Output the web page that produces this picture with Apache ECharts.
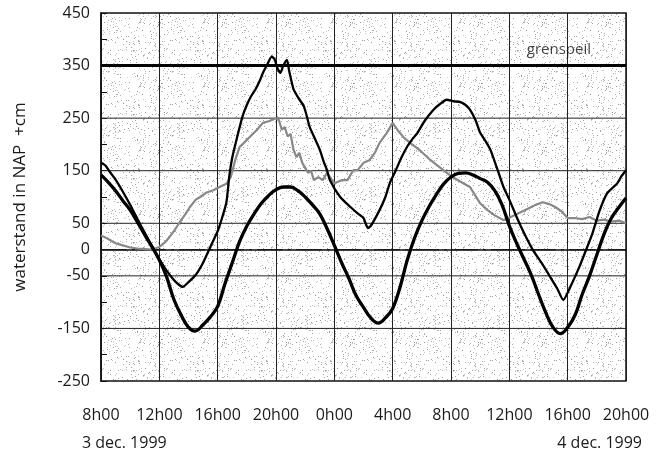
<!DOCTYPE html>
<html>
<head>
<meta charset="utf-8">
<script src="https://cdn.jsdelivr.net/npm/echarts@6/dist/echarts.min.js"></script>
<style>
html,body{margin:0;padding:0;background:#fff;}
#chart{width:664px;height:457px;}
</style>
</head>
<body>
<div id="chart"></div>
<script>
// ---- data (hours since 0h00 on 3 dec. 1999) ----
var xTicks = [8, 12, 16, 20, 24, 28, 32, 36, 40, 44];
var yTickLabels = [450, 350, 250, 150, 50, 0, -50, -150, -250];
var gridLinesY = [250, 150, 50, -50, -150];
var grenspeil = 350;
var zeroLine = 0;

// astronomical tide (thick black)
var astroHours = [8,8.5,9,9.5,10,10.5,11,11.5,12,12.5,13,13.5,14,14.45,15,15.5,16,16.5,17,17.5,18,18.5,19,19.5,20,20.5,21,21.5,22,22.5,23,23.5,24,24.5,25,25.5,26,26.5,27,27.5,28,28.5,29,29.5,30,30.5,31,31.5,32,32.5,33,33.5,34,34.5,35,35.5,36,36.5,37,37.5,38,38.5,39,39.5,40,40.5,41,41.5,42,42.5,43,43.5,44];
var astroValues = [142,128,112,93,75,52,28,5,-20,-52,-95,-125,-148,-155,-143,-128,-108,-65,-25,15,45,68,88,103,114,119,119,112,100,85,68,40,8,-25,-55,-88,-110,-130,-140,-130,-112,-72,-20,22,55,82,105,125,138,145,146,142,135,128,112,85,45,12,-18,-48,-85,-120,-148,-160,-148,-125,-85,-50,-10,30,60,80,98];

// measured water level (medium black)
var measHours = [8,8.3,8.6,9,9.5,10,10.5,11,11.5,12,12.5,13,13.3,13.6,14,14.5,15,15.5,16,16.3,16.6,16.8,17,17.3,17.7,18,18.3,18.6,18.9,19.1,19.4,19.7,19.9,20.1,20.3,20.5,20.75,20.9,21.2,21.5,21.9,22.1,22.3,22.6,23,23.3,23.5,23.7,24.4,25.1,25.6,26,26.3,26.5,27.1,27.5,27.8,28.2,28.6,29,29.4,29.7,30.2,30.8,31.2,31.7,32.2,32.6,33,33.3,33.7,34,34.4,34.7,35.2,35.6,36,36.5,37,37.6,38.2,38.8,39.3,39.7,40.2,40.8,41.2,41.7,42.2,42.7,43.1,43.4,43.7,44];
var measValues = [165,160,148,133,110,85,58,32,6,-18,-40,-58,-66,-71,-62,-48,-25,5,35,60,90,140,175,210,253,275,292,305,322,336,352,367,362,345,336,350,361,340,305,290,273,255,234,215,190,165,151,132,100,81,69,60,41,45,75,100,126,150,175,196,212,222,245,266,276,285,282,281,275,266,245,222,205,190,151,119,95,62,32,0,-25,-52,-75,-96,-70,-33,-5,31,75,107,118,126,140,151];

// third level (grey)
var greyHours = [8,8.5,9,9.5,10,10.5,11,11.5,12,12.4,12.7,13,13.4,13.8,14.1,14.5,14.8,15.2,15.7,16.2,16.6,16.9,17.2,17.5,17.8,18.2,18.7,19.1,19.5,20,20.2,20.4,20.6,20.8,21,21.2,21.4,21.6,21.8,22.2,22.4,22.6,22.9,23.2,23.5,23.7,24,24.5,24.9,25.3,25.6,26,26.4,26.8,27.1,27.6,28,28.4,28.8,29.2,29.9,30.6,31.3,32.1,32.6,33.3,34,34.5,35,35.6,36.1,36.7,37.3,37.8,38.3,38.8,39.2,39.6,40,40.5,41,41.5,42,42.5,43,43.5,44];
var greyValues = [27,20,12,8,4,2,1,0,5,14,24,35,52,68,81,95,100,108,113,120,125,138,170,195,203,214,228,241,244,250,246,228,233,215,220,190,176,184,165,146,150,132,138,132,146,138,126,132,132,151,151,165,170,185,203,222,241,225,212,203,188,170,155,138,130,119,88,75,65,56,62,70,78,85,90,86,80,72,60,60,58,62,55,57,53,55,50];

function pairs(h, v){ var out=[]; for (var i=0;i<h.length;i++) out.push([h[i], v[i]]); return out; }

// stipple texture for plot background (deterministic)
function makeStipple(){
  var c = document.createElement('canvas');
  c.width = 64; c.height = 64;
  var ctx = c.getContext('2d');
  ctx.fillStyle = '#ffffff';
  ctx.fillRect(0,0,64,64);
  var img = ctx.getImageData(0,0,64,64);
  for (var y=0;y<64;y++){
    for (var x=0;x<64;x++){
      var h = ((x*73856093) ^ (y*19349663) ^ ((x*y)*83492791)) >>> 0;
      h = (h ^ (h >>> 13)) * 1274126177 >>> 0;
      h = (h ^ (h >>> 16)) >>> 0;
      if ((h % 100) < 7){
        var g = 150 + (h >>> 8) % 60;
        var k = (y*64+x)*4;
        img.data[k]=g; img.data[k+1]=g; img.data[k+2]=g; img.data[k+3]=255;
      }
    }
  }
  ctx.putImageData(img,0,0);
  return c;
}

var chart = echarts.init(document.getElementById('chart'), null, {renderer:'canvas'});
var FONT = '"Open Sans", "DejaVu Sans", sans-serif';

// horizontal grid lines: one line series per level, spanning the x extent
var hSeries = gridLinesY.map(function(v){
  return {type:'line', data:[[xTicks[0], v],[xTicks[xTicks.length-1], v]], showSymbol:false, silent:true, z:1,
    lineStyle:{color:'#222', width:1, type:'solid'}};
});
hSeries.push({type:'line', data:[[xTicks[0], zeroLine],[xTicks[xTicks.length-1], zeroLine]], showSymbol:false, silent:true, z:1,
    lineStyle:{color:'#1a1a1a', width:1.3, type:[26,5,3,5]}});
hSeries.push({type:'line', data:[[xTicks[0], grenspeil],[xTicks[xTicks.length-1], grenspeil]], showSymbol:false, silent:true, z:1,
    lineStyle:{color:'#000', width:3, type:'solid'}});

chart.setOption({
  animation:false,
  backgroundColor:'#ffffff',
  grid:{left:101, right:38, top:13, bottom:76, show:true, borderColor:'#111', borderWidth:1.5,
    backgroundColor:{image: makeStipple(), repeat:'repeat'}},
  xAxis:{
    type:'value', min:xTicks[0], max:xTicks[xTicks.length-1], interval:4,
    axisLine:{show:true, lineStyle:{color:'#111', width:1.5}},
    axisTick:{show:false},
    splitLine:{show:true, lineStyle:{color:'#222', width:1}},
    axisLabel:{color:'#1a1a1a', fontSize:16, fontFamily:FONT, margin:26,
      formatter:function(v){ return (v % 24) + 'h00'; }}
  },
  yAxis:{
    type:'value', min:-250, max:450, interval:50,
    name:'waterstand in NAP  +cm', nameLocation:'middle', nameGap:72,
    nameTextStyle:{color:'#1a1a1a', fontSize:17, fontFamily:FONT},
    axisLine:{show:true, lineStyle:{color:'#111', width:1.5}},
    axisTick:{show:true, inside:true, length:6, lineStyle:{color:'#111', width:1}},
    splitLine:{show:false},
    axisLabel:{color:'#1a1a1a', fontSize:16, fontFamily:FONT, margin:11,
      formatter:function(v){ return yTickLabels.indexOf(v) >= 0 ? String(v) : ''; }}
  },
  graphic:[
    {type:'text', left:82, top:435, style:{text:'3 dec. 1999', fontSize:16, fontFamily:FONT, fill:'#1a1a1a'}},
    {type:'text', right:22, top:435, style:{text:'4 dec. 1999', fontSize:16, fontFamily:FONT, fill:'#1a1a1a'}}
  ],
  series: hSeries.concat([
    {type:'scatter', data:[[xTicks[xTicks.length-1], grenspeil]], symbolSize:0, silent:true, z:2,
      label:{show:true, formatter:'grenspeil', position:'left', distance:35, offset:[0,-16],
        color:'#111', fontSize:15, fontFamily:FONT}},
    {name:'grey', type:'line', data:pairs(greyHours, greyValues), showSymbol:false, smooth:false, z:3,
      lineStyle:{color:'#888888', width:2.2}},
    {name:'astro', type:'line', data:pairs(astroHours, astroValues), showSymbol:false, smooth:0.4, z:4,
      lineStyle:{color:'#000', width:3.3}},
    {name:'measured', type:'line', data:pairs(measHours, measValues), showSymbol:false, smooth:0.2, z:5,
      lineStyle:{color:'#000', width:2.3}}
  ])
});
</script>
</body>
</html>
